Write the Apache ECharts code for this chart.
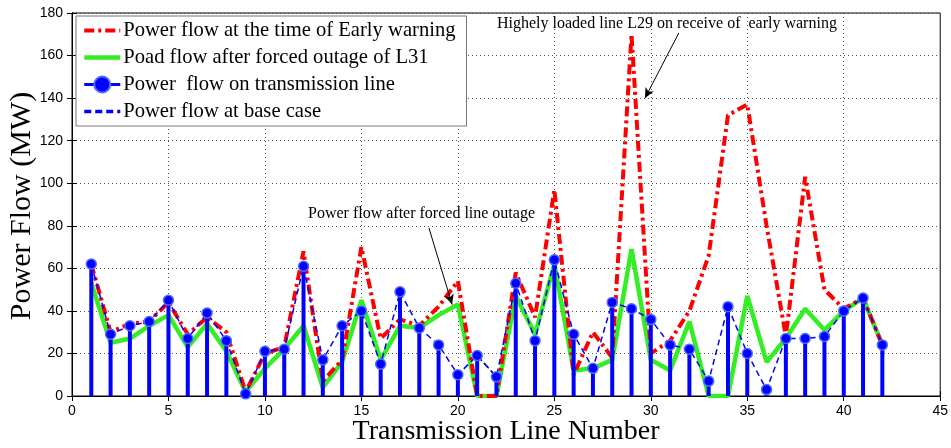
<!DOCTYPE html>
<html>
<head>
<meta charset="utf-8">
<script src="https://cdn.jsdelivr.net/npm/echarts@6/dist/echarts.min.js"></script>
<style>html,body{margin:0;padding:0;background:#fff;}#c{width:951px;height:448px;}</style>
</head>
<body>
<div id="c"></div>
<script>
const lineNumbers = [1,2,3,4,5,6,7,8,9,10,11,12,13,14,15,16,17,18,19,20,21,22,23,24,25,26,27,28,29,30,31,32,33,34,35,36,37,38,39,40,41,42];
const earlyWarning = [62,30,34,35,44,29,37,30,2,20,23,68,7,17,70,27,36,33,42,54,0,0,58,37,97,10,30,18,170,20,26,40,66,132,137,80,28,103,50,41,46,24];
const afterOutage = [53,25,27,33,38,23,34,21,2,13,22,33,4,16,45,17,33,32,38,43,0,0,47,29,62,12,13,17,69,17,12,35,0,0,47,16,27,41,31,40,46,24];
const lineFlow = [62,29,33,35,45,27,39,26,1,21,22,61,17,33,40,15,49,32,24,10,19,9,53,26,64,29,13,44,41,36,24,22,7,42,20,3,27,27,28,40,46,24];
const baseCase = [62,29,33,35,45,27,39,26,1,21,22,61,17,33,40,15,49,32,24,10,19,9,53,26,64,29,13,44,41,36,24,22,7,42,20,3,27,27,28,40,46,24];
const xTicks = [0,5,10,15,20,25,30,35,40,45];
const yTicks = [0,20,40,60,80,100,120,140,160,180];
const names = ['Power flow at the time of Early warning','Poad flow after forced outage of L31','Power  flow on transmission line','Power flow at base case'];
const annotations = [
  {text:'Highely loaded line L29 on receive of  early warning', from:[31.45,170.6], to:[29.7,140]},
  {text:'Power flow after forced line outage', from:[18.5,79], to:[19.7,43]}
];

const pair = arr => arr.map((v,i)=>[lineNumbers[i], v]);
const serif = 'Liberation Serif';
const sans = 'Liberation Sans';

const chart = echarts.init(document.getElementById('c'), null, {renderer:'canvas'});
const axisCommon = {
  type:'value', min:0,
  axisLine:{show:true, lineStyle:{color:'#000', width:1}},
  axisTick:{show:true, inside:true, length:5, lineStyle:{color:'#000'}}
};
const hideSym = {opacity:0};
chart.setOption({
  animation:false,
  backgroundColor:'#fff',
  grid:{left:72, right:9, top:13, bottom:52, show:true, borderColor:'#000', borderWidth:1, backgroundColor:'transparent'},
  legend:{
    orient:'vertical', left:76, top:16,
    backgroundColor:'#fff', borderColor:'#777', borderWidth:1,
    padding:[4,11,4,6], itemGap:6, itemWidth:36, itemHeight:20,
    textStyle:{fontFamily:serif, fontSize:20.6, lineHeight:20, color:'#000', padding:[0,0,0,-2]},
    data:[
      {name:names[0], itemStyle:hideSym, lineStyle:{width:4, color:'#ff0000', type:[10,4,3,4]}},
      {name:names[1], itemStyle:hideSym, lineStyle:{width:4.5, color:'#33ee22'}},
      {name:names[2], lineStyle:{opacity:1, width:3, color:'#0000ff', type:'solid'}},
      {name:names[3], itemStyle:hideSym, lineStyle:{width:3.5, color:'#0000ff', type:[7,4]}}
    ]
  },
  xAxis:[
    Object.assign({}, axisCommon, {max:45, interval:5, position:'bottom',
      axisLabel:{fontFamily:sans, fontSize:14, color:'#000', margin:8},
      splitLine:{show:true, lineStyle:{type:[1,3], color:'#555', width:1}}}),
    Object.assign({}, axisCommon, {max:45, interval:5, position:'top', axisLabel:{show:false}, splitLine:{show:false}})
  ],
  yAxis:[
    Object.assign({}, axisCommon, {max:180, interval:20, position:'left',
      axisLabel:{fontFamily:sans, fontSize:14, color:'#000', margin:9},
      splitLine:{show:true, lineStyle:{type:[1,3], color:'#555', width:1}}}),
    Object.assign({}, axisCommon, {max:180, interval:20, position:'right', axisLabel:{show:false}, splitLine:{show:false}})
  ],
  graphic:[
    {type:'text', left:497, top:16, style:{text:annotations[0].text, font:'16px "'+serif+'"', fill:'#000'}, z:100},
    {type:'text', left:308, top:206, style:{text:annotations[1].text, font:'16px "'+serif+'"', fill:'#000'}, z:100},
    {type:'text', x:22, y:206, rotation:Math.PI/2, style:{text:'Power Flow (MW)', font:'30px "'+serif+'"', fill:'#000', align:'center', verticalAlign:'middle'}, z:100},
    {type:'text', x:506, y:432, style:{text:'Transmission Line Number', font:'28px "'+serif+'"', fill:'#000', align:'center', verticalAlign:'middle'}, z:100}
  ],
  series:[
    {name:names[1], type:'line', data:pair(afterOutage), symbol:'none', z:2,
      lineStyle:{color:'#33ee22', width:4.5}, itemStyle:{color:'#33ee22'}},
    {name:names[0], type:'line', data:pair(earlyWarning), symbol:'none', z:3,
      lineStyle:{color:'#ff0000', width:4, type:[10,4,3,4]}, itemStyle:{color:'#ff0000'}},
    {name:'stems', type:'bar', data:pair(lineFlow), barWidth:4, z:4, silent:true,
      itemStyle:{color:'#0000ff'}},
    {name:names[3], type:'line', data:pair(baseCase), symbol:'none', z:5,
      lineStyle:{color:'#0000ff', width:1.5, type:[6,4]}, itemStyle:{color:'#0000ff'},
      markLine:{silent:true, symbol:['none','none'], label:{show:false},
        lineStyle:{color:'#000', width:1.5, type:[6,4]},
        data:[[{coord:[lineNumbers[20], baseCase[20]]},{coord:[lineNumbers[21], baseCase[21]]}]]}},
    {name:names[2], type:'line', data:pair(lineFlow), symbol:'circle', symbolSize:10, z:6,
      lineStyle:{opacity:0, width:0}, itemStyle:{color:'#0000ff', borderColor:'#4d6bff', borderWidth:1.5},
      markLine:{silent:true, label:{show:false}, symbol:['none','arrow'], symbolSize:[7,10],
        lineStyle:{color:'#000', width:1, type:'solid'},
        data:annotations.map(a=>[{coord:a.from},{coord:a.to}])}}
  ]
});
</script>
</body>
</html>
